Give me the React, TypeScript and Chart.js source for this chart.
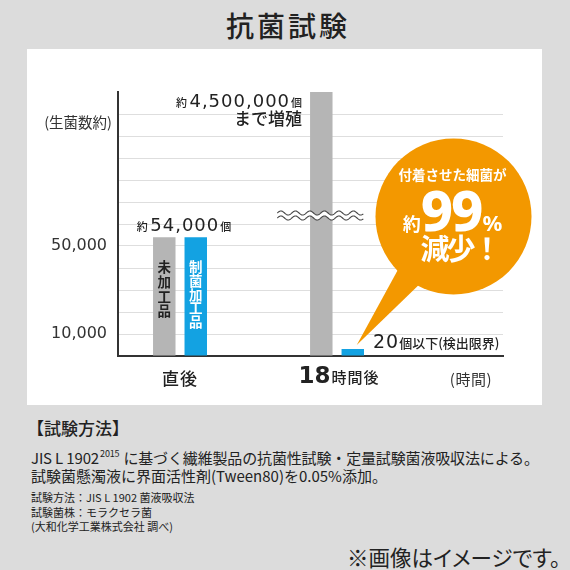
import React, { useEffect, useRef } from "react";
import { Chart, registerables } from "chart.js";

Chart.register(...registerables);

// ---- text & data ----
const title = "抗菌試験";
const categories = ["直後", "18時間後"];
const seriesNames = ["未加工品", "制菌加工品"];
const untreatedValues = [54000, 4500000];
const treatedValues = [54000, 20];
const yMax = 120000;
const yGridValues = [0, 10000, 20000, 30000, 40000, 50000, 60000, 70000, 80000, 90000, 100000, 110000, 120000];
const yLabelValues = [10000, 50000];
const yLabelTexts = ["10,000", "50,000"];
const yUnit = "(生菌数約)";
const xUnit = "(時間)";
const peakLabel = ["約 ", "4,500,000", "個"];
const peakLabel2 = "まで増殖";
const startLabel = ["約 ", "54,000", "個"];
const floorLabel = ["20", "個以下(検出限界)"];
const bubbleLine1 = "付着させた細菌が";
const bubbleLine2 = ["約", "99", "%"];
const bubbleLine3 = "減少！";
const noteHeading = "【試験方法】";
const noteLine1 = ["JIS L 1902", "2015", "に基づく繊維製品の抗菌性試験・定量試験菌液吸収法による。"];
const noteLine2 = "試験菌懸濁液に界面活性剤(Tween80)を0.05%添加。";
const smallNotes = ["試験方法：JIS L 1902 菌液吸収法", "試験菌株：モラクセラ菌", "(大和化学工業株式会社 調べ)"];
const disclaimer = "※画像はイメージです。";

// ---- styles ----
const JP = '"Noto Sans CJK JP", "Noto Sans", sans-serif';
const NUM = '"DejaVu Sans", sans-serif';
const GRAY = "#b5b5b5";
const BLUE = "#13a2e2";
const ORANGE = "#f39800";
const AXIS = "#333333";
const GRID = "#dedede";
const TEXT = "#222222";
const BG = "#dcdcdc";

type Run = { text: string; font: string; spacing?: number; gap?: number };

function drawRuns(ctx: CanvasRenderingContext2D, runs: Run[], x: number, y: number, align: "left" | "center" | "right") {
  const widths = runs.map((r) => {
    ctx.font = r.font;
    (ctx as any).letterSpacing = (r.spacing || 0) + "px";
    return ctx.measureText(r.text).width + (r.gap || 0);
  });
  const total = widths.reduce((a, b) => a + b, 0);
  let cx = align === "left" ? x : align === "center" ? x - total / 2 : x - total;
  ctx.textAlign = "left";
  runs.forEach((r, i) => {
    ctx.font = r.font;
    (ctx as any).letterSpacing = (r.spacing || 0) + "px";
    ctx.fillText(r.text, cx, y);
    cx += widths[i];
  });
  (ctx as any).letterSpacing = "0px";
}

function wave(x0: number, x1: number, y: number, amp: number, period: number) {
  const pts: [number, number][] = [];
  for (let x = x0; x <= x1; x += 0.5) pts.push([x, y - amp * Math.sin(((x - x0) / period) * Math.PI * 2)]);
  return pts;
}

const annotate = {
  id: "annotate",
  afterDraw(chart: any) {
    const ctx: CanvasRenderingContext2D = chart.ctx;
    const area = chart.chartArea;
    const xs = chart.scales.x;
    const g = chart.getDatasetMeta(0).data;
    const b = chart.getDatasetMeta(1).data;
    ctx.save();
    ctx.textBaseline = "alphabetic";

    // axis break on the tall bar
    const wy = area.top + 121;
    const wx0 = g[1].x - 44;
    const wx1 = g[1].x + 42;
    const top = wave(wx0, wx1, wy, 2, 14.5);
    const bot = wave(wx0, wx1, wy + 5, 2, 14.5);
    ctx.beginPath();
    top.forEach(([px, py], i) => (i ? ctx.lineTo(px, py) : ctx.moveTo(px, py)));
    [...bot].reverse().forEach(([px, py]) => ctx.lineTo(px, py));
    ctx.closePath();
    ctx.fillStyle = "#ffffff";
    ctx.fill();
    ctx.strokeStyle = "#444";
    ctx.lineWidth = 1.1;
    [top, bot].forEach((line) => {
      ctx.beginPath();
      line.forEach(([px, py], i) => (i ? ctx.lineTo(px, py) : ctx.moveTo(px, py)));
      ctx.stroke();
    });

    // speech bubble
    const cx = area.right - 49.5;
    const cy = area.top + 124.5;
    const r = 78;
    const tip = { x: b[1].x + 4, y: b[1].y - 4 };
    ctx.fillStyle = ORANGE;
    ctx.beginPath();
    ctx.arc(cx, cy, r, 0, Math.PI * 2);
    ctx.fill();
    const a1 = (138 * Math.PI) / 180;
    const a2 = (115 * Math.PI) / 180;
    ctx.beginPath();
    ctx.moveTo(cx + 70 * Math.cos(a1), cy + 70 * Math.sin(a1));
    ctx.lineTo(tip.x, tip.y);
    ctx.lineTo(cx + 70 * Math.cos(a2), cy + 70 * Math.sin(a2));
    ctx.closePath();
    ctx.fill();

    ctx.fillStyle = "#ffffff";
    drawRuns(ctx, [{ text: bubbleLine1, font: `700 13.5px ${JP}` }], cx - 1, cy - 36.5, "center");
    drawRuns(
      ctx,
      [
        { text: bubbleLine2[0], font: `700 18px ${JP}`, gap: 0 },
        { text: bubbleLine2[1], font: `800 56px "Noto Sans", sans-serif`, spacing: -2, gap: 1 },
        { text: bubbleLine2[2], font: `700 22px "Noto Sans", sans-serif` },
      ],
      cx - 1,
      cy + 14,
      "center"
    );
    drawRuns(ctx, [{ text: bubbleLine3, font: `700 29px ${JP}`, spacing: -3 }], cx - 33, cy + 43, "left");

    // labels near bars
    ctx.fillStyle = TEXT;
    drawRuns(
      ctx,
      [
        { text: peakLabel[0], font: `500 11px ${JP}` },
        { text: peakLabel[1], font: `18px ${NUM}`, spacing: 1, gap: 1 },
        { text: peakLabel[2], font: `500 11px ${JP}` },
      ],
      g[1].x - g[1].width / 2 - 8,
      area.top + 14.5,
      "right"
    );
    drawRuns(ctx, [{ text: peakLabel2, font: `500 17px ${JP}` }], g[1].x - g[1].width / 2 - 8, area.top + 33, "right");

    const midStart = (g[0].x + b[0].x) / 2;
    drawRuns(
      ctx,
      [
        { text: startLabel[0], font: `500 11px ${JP}` },
        { text: startLabel[1], font: `18px ${NUM}`, spacing: 1, gap: 1 },
        { text: startLabel[2], font: `500 11px ${JP}` },
      ],
      midStart + 4,
      g[0].y - 6,
      "center"
    );

    drawRuns(
      ctx,
      [
        { text: floorLabel[0], font: `19px ${NUM}`, spacing: 1 },
        { text: floorLabel[1], font: `500 13px ${JP}` },
      ],
      b[1].x + b[1].width / 2 + 9,
      b[1].y - 1,
      "left"
    );

    // vertical labels inside bars
    ctx.textAlign = "center";
    ctx.textBaseline = "middle";
    ctx.font = `700 13.5px ${JP}`;
    ctx.fillStyle = TEXT;
    Array.from(seriesNames[0]).forEach((ch, i) => ctx.fillText(ch, g[0].x, g[0].y + 30 + i * 14.7));
    ctx.fillStyle = "#ffffff";
    Array.from(seriesNames[1]).forEach((ch, i) => ctx.fillText(ch, b[0].x, b[0].y + 30 + i * 13.6));
    ctx.textBaseline = "alphabetic";

    // axis unit labels
    ctx.fillStyle = "#333";
    drawRuns(ctx, [{ text: yUnit, font: `14.5px ${JP}` }], area.left - 6, area.top + 36, "right");
    drawRuns(ctx, [{ text: xUnit, font: `15px ${JP}`, spacing: 0.5 }], area.right - 11, area.bottom + 28.5, "right");

    // category labels
    ctx.fillStyle = TEXT;
    categories.forEach((cat, i) => {
      const px = xs.getPixelForValue(i);
      const m = cat.match(/^(\d+)(.*)$/);
      if (m) {
        drawRuns(
          ctx,
          [
            { text: m[1], font: `700 23px ${NUM}`, gap: 1 },
            { text: m[2], font: `500 15px ${JP}`, spacing: 1 },
          ],
          px + 2,
          area.bottom + 27,
          "center"
        );
      } else {
        drawRuns(ctx, [{ text: cat, font: `500 17px ${JP}`, spacing: 1 }], px, area.bottom + 28.5, "center");
      }
    });
    ctx.restore();
  },
};

function BarChart() {
  const ref = useRef<HTMLCanvasElement | null>(null);
  useEffect(() => {
    if (!ref.current) return;
    const chart = new Chart(ref.current, {
      type: "bar",
      data: {
        datasets: [
          {
            label: seriesNames[0],
            data: untreatedValues.map((v, i) => ({ x: i, y: v })),
            backgroundColor: GRAY,
            borderWidth: 0,
            clip: 0,
            categoryPercentage: 0.401,
            barPercentage: 0.714,
          } as any,
          {
            label: seriesNames[1],
            data: treatedValues.map((v, i) => ({ x: i, y: v })),
            backgroundColor: BLUE,
            borderWidth: 0,
            clip: 0,
            minBarLength: 7,
            categoryPercentage: 0.401,
            barPercentage: 0.714,
          } as any,
        ],
      },
      options: {
        responsive: false,
        animation: false,
        devicePixelRatio: 1,
        layout: { padding: { top: 43, right: 39, left: 0, bottom: 0 } },
        plugins: { legend: { display: false }, tooltip: { enabled: false } },
        scales: {
          x: {
            type: "linear",
            min: -0.395,
            max: 2.057,
            offset: false,
            afterBuildTicks: (s: any) => {
              s.ticks = categories.map((_, i) => ({ value: i }));
            },
            afterFit: (s: any) => {
              s.height = 49;
            },
            grid: { color: "rgba(0,0,0,0)", drawTicks: false },
            border: { display: true, color: AXIS, width: 2 },
            ticks: { display: false },
          },
          y: {
            type: "linear",
            min: 0,
            max: yMax,
            afterBuildTicks: (s: any) => {
              s.ticks = yGridValues.map((v) => ({ value: v }));
            },
            afterFit: (s: any) => {
              s.width = 91;
            },
            grid: {
              color: (c: any) => (c.tick && c.tick.value > 0 && c.tick.value < yMax ? GRID : "rgba(0,0,0,0)"),
              lineWidth: 1,
              drawTicks: false,
            },
            border: { display: true, color: AXIS, width: 2 },
            ticks: {
              autoSkip: false,
              padding: 11,
              color: "#333",
              font: { family: NUM, size: 16 },
              callback: (v: any) => {
                const i = yLabelValues.indexOf(Number(v));
                return i >= 0 ? yLabelTexts[i] : "";
              },
            },
          },
        },
      } as any,
      plugins: [annotate as any],
    });
    return () => chart.destroy();
  }, []);
  return <canvas ref={ref} width={515} height={356} style={{ display: "block", width: 515, height: 356 }} />;
}

export default function App() {
  const base: React.CSSProperties = { position: "absolute", whiteSpace: "nowrap", color: TEXT, fontFamily: JP };
  return (
    <div style={{ position: "fixed", left: 0, top: 0, width: 570, height: 570, background: BG, overflow: "hidden", fontFamily: JP }}>
      <div style={{ ...base, left: 0, top: 9, width: 570, textAlign: "center", fontSize: 28, lineHeight: "32px", fontWeight: 500, letterSpacing: 3, paddingLeft: 3 }}>
        {title}
      </div>
      <div style={{ position: "absolute", left: 27, top: 49, width: 515, height: 356, background: "#fff" }}>
        <BarChart />
      </div>
      <div style={{ ...base, left: 27, top: 415, fontSize: 17, lineHeight: "26px", fontWeight: 500 }}>{noteHeading}</div>
      <div style={{ ...base, left: 31, top: 448, fontSize: 15, lineHeight: "20px", letterSpacing: -0.15 }}>
        {noteLine1[0]}
        <span style={{ fontSize: 9, position: "relative", top: -7, marginLeft: 1, marginRight: 4 }}>{noteLine1[1]}</span>
        {noteLine1[2]}
      </div>
      <div style={{ ...base, left: 31, top: 466, fontSize: 15, lineHeight: "20px" }}>{noteLine2}</div>
      {smallNotes.map((t, i) => (
        <div key={i} style={{ ...base, left: 31, top: 490 + i * 14.5, fontSize: 11, lineHeight: "14px" }}>
          {t}
        </div>
      ))}
      <div style={{ ...base, left: 347, top: 543, fontSize: 21.5, lineHeight: "28px", fontFeatureSettings: '"palt"' }}>{disclaimer}</div>
    </div>
  );
}
